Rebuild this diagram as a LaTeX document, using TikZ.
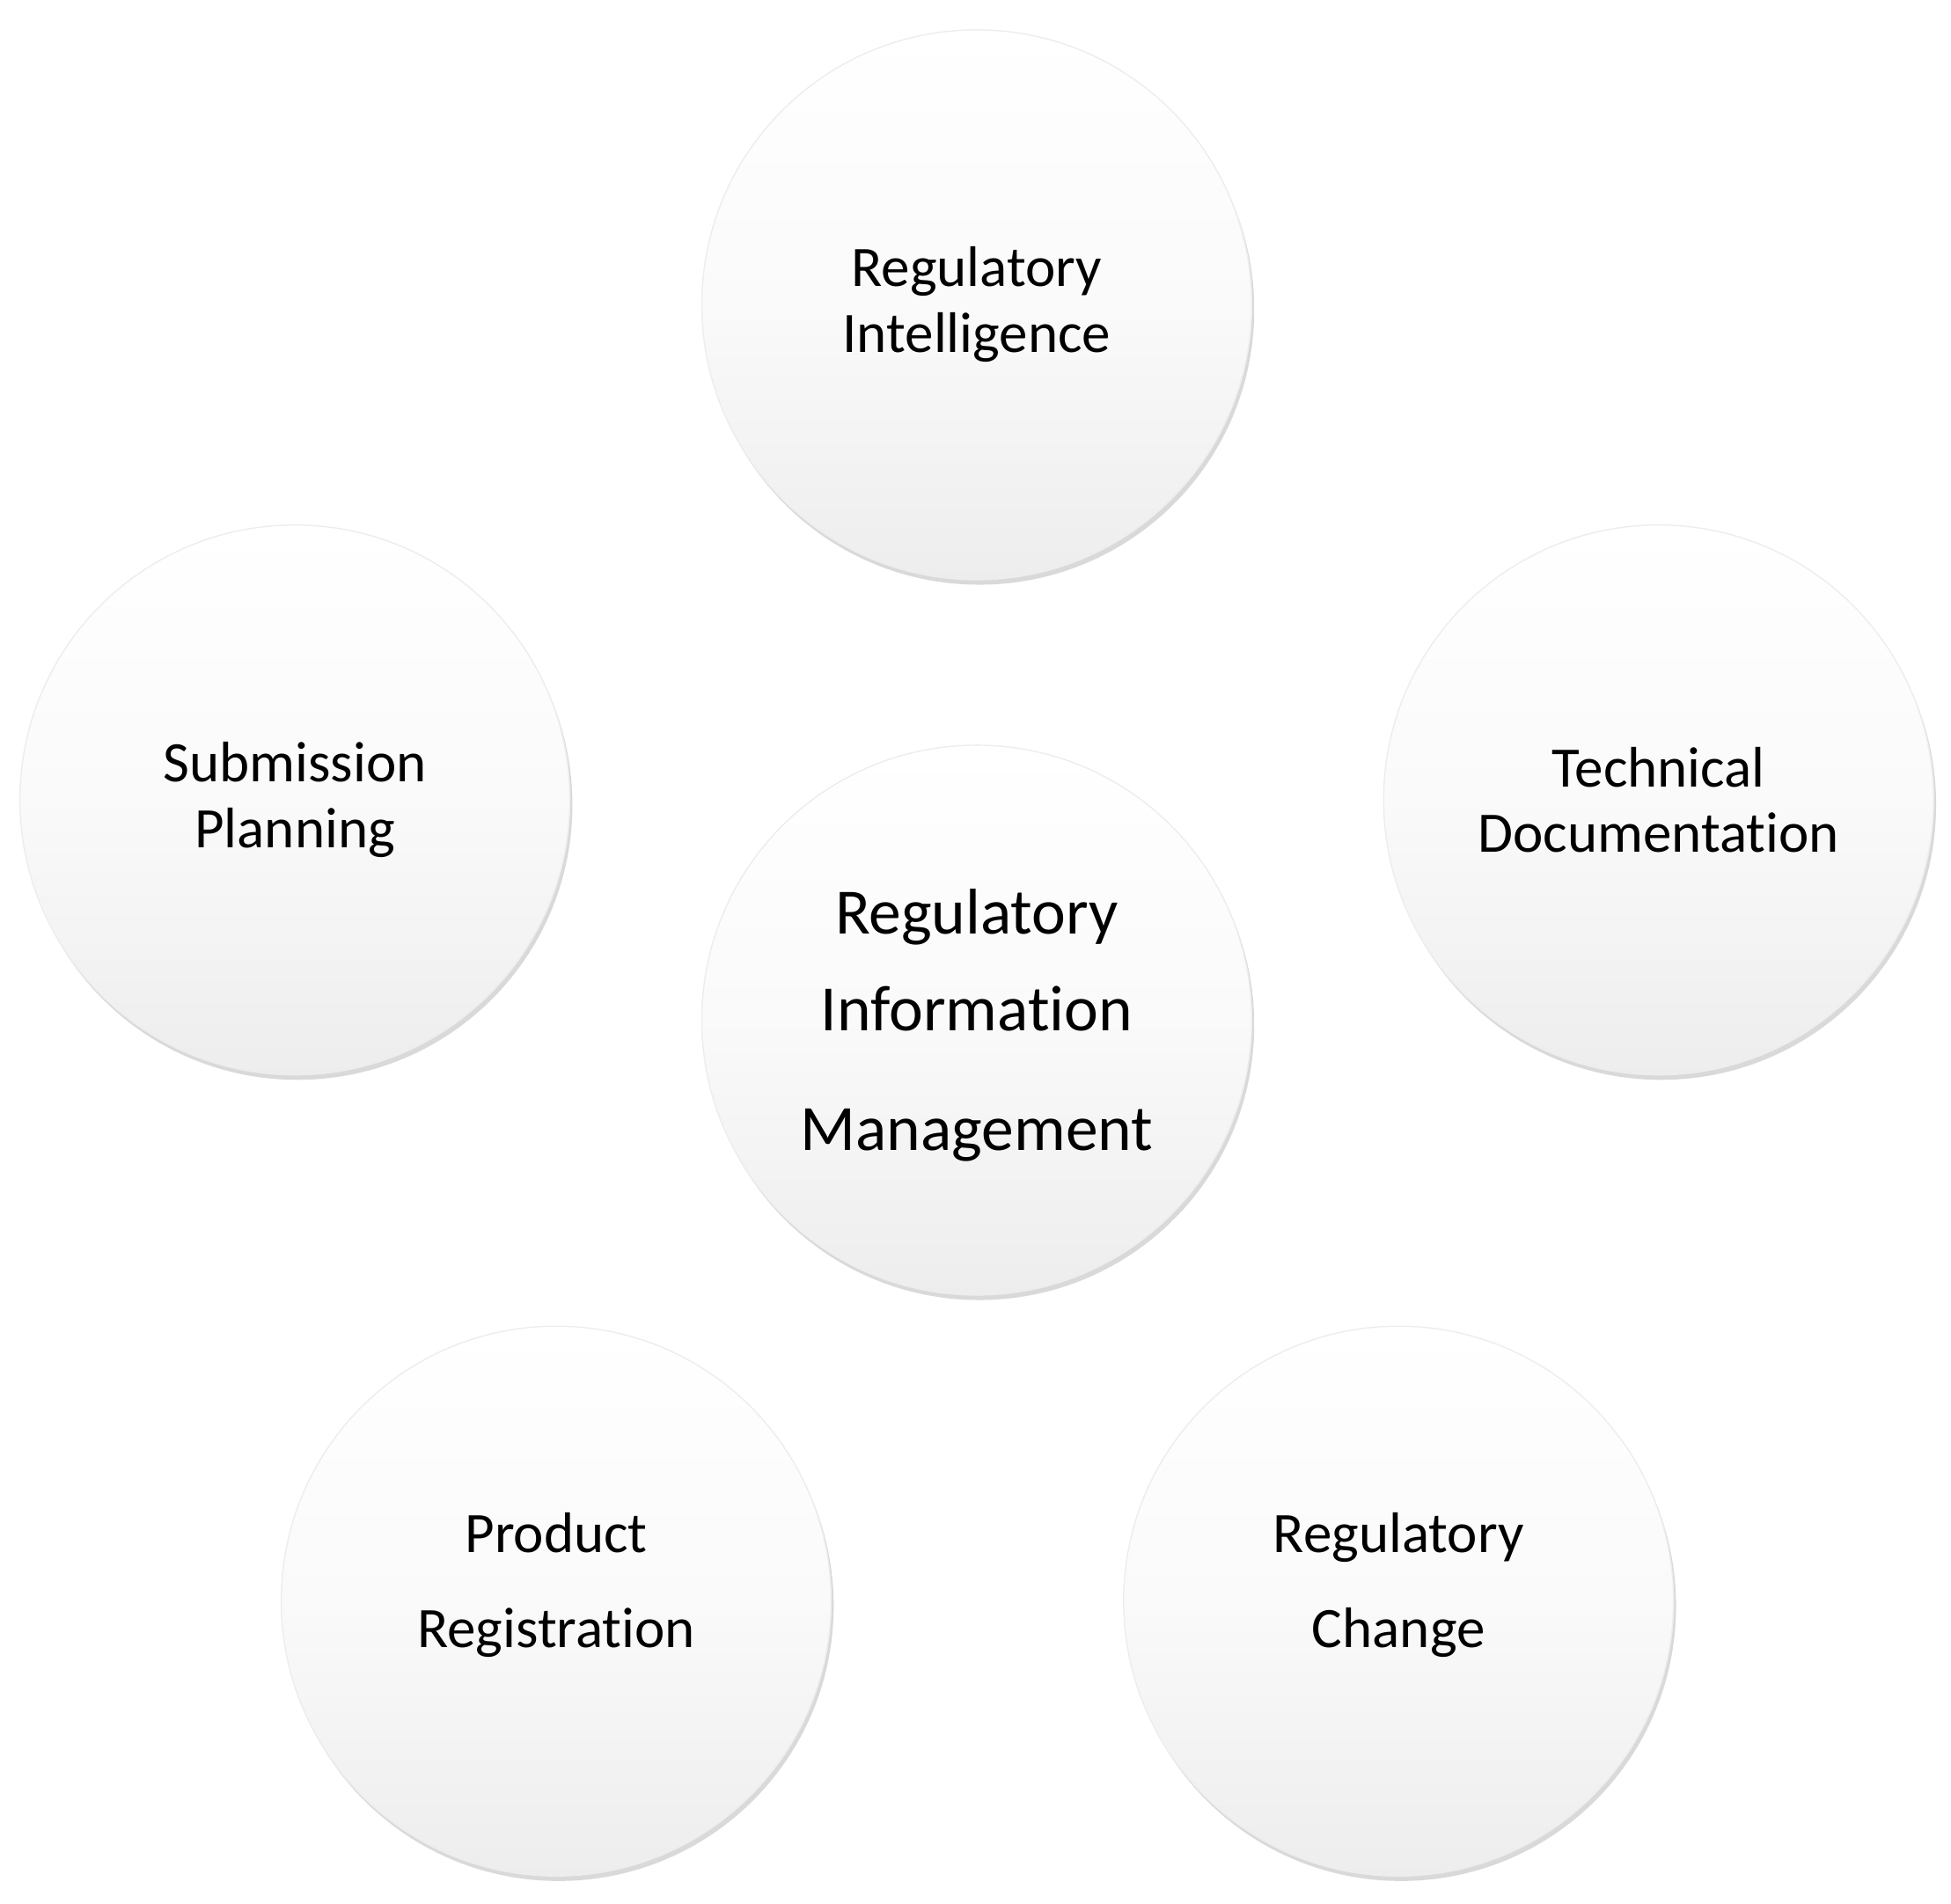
\documentclass[tikz,border=0pt]{standalone}
\usepackage{fontspec}
\setmainfont[RawFeature=-liga]{Carlito}
\usetikzlibrary{shadows,shadings}
\pgfdeclareverticalshading{bubshade}{100bp}{color(0bp)=(black!12); color(25bp)=(black!7); color(50bp)=(black!2); color(75bp)=(white); color(100bp)=(white)}
\begin{document}
\begin{tikzpicture}[x=1pt,y=-1pt,
  bub/.style={circle,minimum size=442pt,inner sep=0pt,align=center,
    shading=bubshade,draw=black!7,line width=1pt,
    drop shadow={shadow xshift=2pt,shadow yshift=-4pt,opacity=0.25,fill=black!60},
    font=\fontsize{46}{53}\selectfont}]
\useasboundingbox (0,0) rectangle (1568,1530);
\node[bub] (ri) at (785,245) {Regulatory\\Intelligence};
\node[bub] (sp) at (237,643) {Submission\\Planning};
\node[bub] (td) at (1333,643) {Technical\\Documentation};
\node[bub] (rim) at (785,820) {};
\node[font=\fontsize{52}{78}\selectfont,align=center] (rimt) at (785,824) {Regulatory\\Information\\[18pt]Management};
\node[bub] (pr) at (447,1287) {};
\node[font=\fontsize{46}{76}\selectfont,align=center] (prt) at (447,1274) {Product\\Registration};
\node[bub] (rc) at (1124,1287) {};
\node[font=\fontsize{46}{76}\selectfont,align=center] (rct) at (1124,1274) {Regulatory\\Change};
\end{tikzpicture}
\end{document}
